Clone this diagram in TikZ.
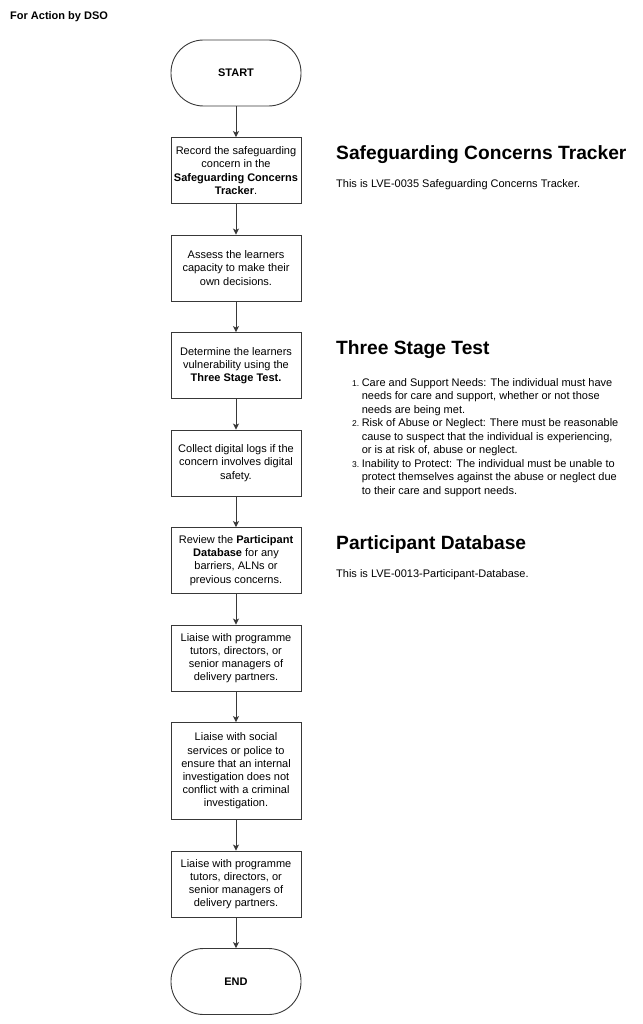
\documentclass[tikz,border=0pt]{standalone}
\usepackage{fontspec}
\setmainfont{Liberation Sans}
\usetikzlibrary{positioning, arrows.meta}
\definecolor{linegray}{rgb}{0.22,0.22,0.22}
\tikzstyle{startstop} = [rectangle, rounded corners=32.5pt, minimum width=130pt, minimum height=66pt, text centered, draw=linegray, line width=0.9pt, font=\fontsize{11}{13.2}\selectfont\bfseries]
\tikzstyle{process} = [rectangle, minimum width=130pt, minimum height=66pt, text centered, align=center, draw=linegray, line width=0.9pt, inner sep=2pt, font=\fontsize{11}{13.2}\selectfont]
\tikzstyle{heading} = [anchor=west, inner sep=0pt, font=\fontsize{19.2}{22}\selectfont\bfseries]
\tikzstyle{note} = [anchor=west, inner sep=0pt, align=left, font=\fontsize{11}{13.5}\selectfont]
\tikzstyle{arrow} = [-{Stealth[length=6pt,width=6pt,inset=1.5pt]}, draw=linegray, line width=0.9pt]
\newcommand{\numlbl}[1]{{\fontsize{8.5}{10}\selectfont #1}}

\begin{document}
\begin{tikzpicture}[x=1pt, y=-1pt, node distance=30.6pt]
	\useasboundingbox (0,0) rectangle (642,1024);
	\node (title) [anchor=west, inner sep=0pt, font=\fontsize{11}{13}\selectfont\bfseries] at (10,17) {For Action by DSO};
	% flow
	\node (start) [startstop] at (236,73) {START};
	\node (rec) [process, below=of start] {Record the safeguarding\\concern in the\\\textbf{Safeguarding Concerns}\\\textbf{Tracker}.};
	\node (assess) [process, below=of rec] {Assess the learners\\capacity to make their\\own decisions.};
	\node (vuln) [process, below=of assess] {Determine the learners\\vulnerability using the\\\textbf{Three Stage Test.}};
	\node (logs) [process, below=of vuln] {Collect digital logs if the\\concern involves digital\\safety.};
	\node (review) [process, below=of logs] {Review the \textbf{Participant}\\\textbf{Database} for any\\barriers, ALNs or\\previous concerns.};
	\node (tutors) [process, below=of review] {Liaise with programme\\tutors, directors, or\\senior managers of\\delivery partners.};
	\node (police) [process, below=of tutors, minimum height=97pt] {Liaise with social\\services or police to\\ensure that an internal\\investigation does not\\conflict with a criminal\\investigation.};
	\node (tutors2) [process, below=of police] {Liaise with programme\\tutors, directors, or\\senior managers of\\delivery partners.};
	\node (end) [startstop, below=of tutors2] {END};
	\draw [arrow](start) -- (rec);
	\draw [arrow](rec) -- (assess);
	\draw [arrow](assess) -- (vuln);
	\draw [arrow](vuln) -- (logs);
	\draw [arrow](logs) -- (review);
	\draw [arrow](review) -- (tutors);
	\draw [arrow](tutors) -- (police);
	\draw [arrow](police) -- (tutors2);
	\draw [arrow](tutors2) -- (end);
	% notes
	\node (sctHead) [heading] at (336,155) {Safeguarding Concerns Tracker};
	\node (sctText) [note] at (336,185) {This is LVE-0035 Safeguarding Concerns Tracker.};
	\node (tstHead) [heading] at (336,350) {Three Stage Test};
	\node (tstList) [note, anchor=base west] at (352,386) {\begin{tabular}[t]{@{}r@{\hspace{2.5pt}}l@{}}
		\numlbl{1.} & Care and Support Needs: The individual must have\\
		& needs for care and support, whether or not those\\
		& needs are being met.\\
		\numlbl{2.} & Risk of Abuse or Neglect: There must be reasonable\\
		& cause to suspect that the individual is experiencing,\\
		& or is at risk of, abuse or neglect.\\
		\numlbl{3.} & Inability to Protect: The individual must be unable to\\
		& protect themselves against the abuse or neglect due\\
		& to their care and support needs.
	\end{tabular}};
	\node (pdbHead) [heading] at (336,545) {Participant Database};
	\node (pdbText) [note] at (336,575) {This is LVE-0013-Participant-Database.};
\end{tikzpicture}
\end{document}
